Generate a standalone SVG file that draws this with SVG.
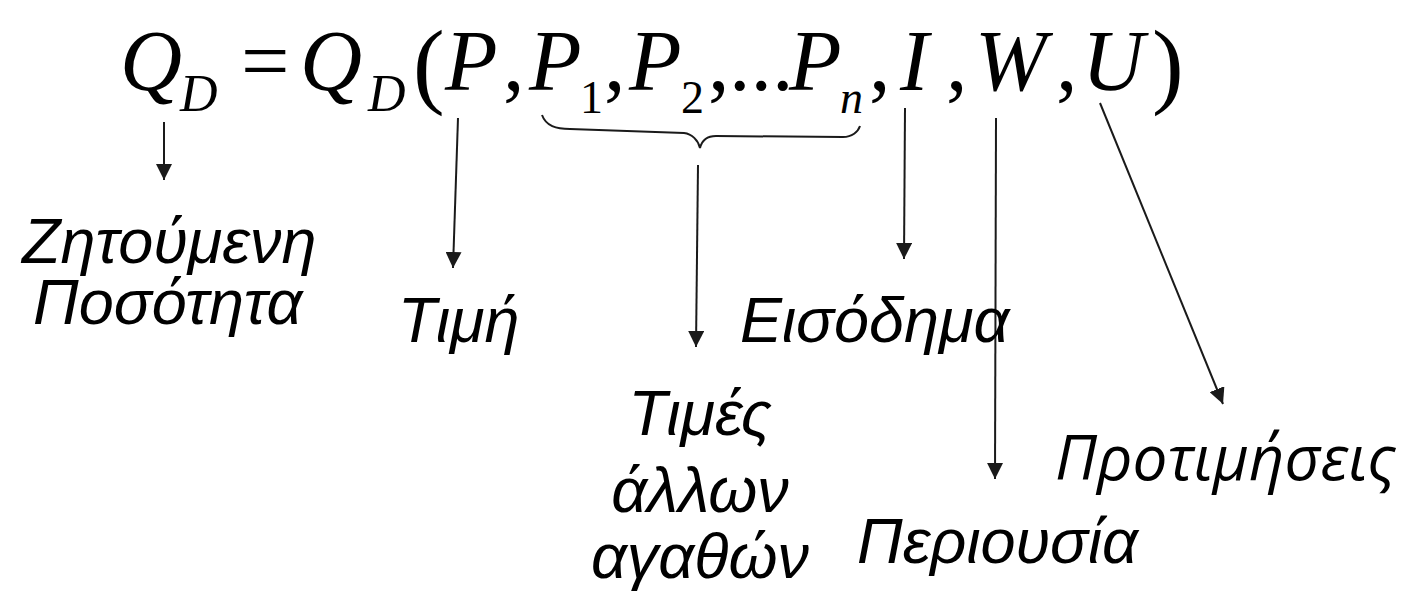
<svg xmlns="http://www.w3.org/2000/svg" width="1404" height="600" viewBox="0 0 1404 600">
<defs>
<marker id="ah" viewBox="0 0 16 16" refX="16" refY="8" markerWidth="16" markerHeight="16" markerUnits="userSpaceOnUse" orient="auto">
<path d="M0,0 L16,8 L0,16 z" fill="#1a1a1a"/>
</marker>
<style>
.m{font-family:"Liberation Serif","Times New Roman",serif;font-style:italic;font-size:86px;fill:#000}
.r{font-family:"Liberation Serif","Times New Roman",serif;font-size:86px;fill:#000}
.sd{font-family:"Liberation Serif","Times New Roman",serif;font-style:italic;font-size:52px;fill:#000}
.sn{font-family:"Liberation Serif","Times New Roman",serif;font-size:46px;fill:#000}
.si{font-family:"Liberation Serif","Times New Roman",serif;font-style:italic;font-size:46px;fill:#000}
.p{font-family:"Liberation Serif","Times New Roman",serif;font-size:95px;fill:#000}
.l{font-family:"Liberation Sans",Arial,sans-serif;font-style:italic;font-size:63px;fill:#000}
.l2{font-family:"Open Sans","Noto Sans",sans-serif;font-style:italic;font-size:62px;fill:#000}
.c{stroke:#1a1a1a;stroke-width:2;fill:none}
</style>
</defs>
<g id="formula">
<text class="m" x="120" y="90">Q</text>
<text class="sd" x="180" y="111">D</text>
<text class="r" x="241" y="90">=</text>
<text class="m" x="300" y="90">Q</text>
<text class="sd" x="368" y="111">D</text>
<text class="p" x="413" y="96">(</text>
<text class="m" x="445" y="90">P</text>
<text class="r" x="503" y="90">,</text>
<text class="m" x="529" y="90">P</text>
<text class="sn" x="580" y="113">1</text>
<text class="r" x="604" y="90">,</text>
<text class="m" x="629" y="90">P</text>
<text class="sn" x="681" y="113">2</text>
<text class="r" x="708" y="90">,</text>
<text class="r" x="729" y="90">...</text>
<text class="m" x="789" y="90">P</text>
<text class="si" x="840" y="113">n</text>
<text class="r" x="869" y="90">,</text>
<text class="m" x="900" y="90">I</text>
<text class="r" x="946" y="90">,</text>
<text class="m" x="975" y="90">W</text>
<text class="r" x="1056" y="90">,</text>
<text class="m" x="1082" y="90">U</text>
<text class="p" x="1152" y="96">)</text>
</g>
<g id="brace">
<path class="c" d="M542,115 C546,126 556,129 570,129 L684,133 C692,134 698,140 700,148 C702,140 708,136 716,136 L843,137 C852,137 858,132 860,126"/>
</g>
<g id="connectors">
<line class="c" x1="164" y1="122" x2="164" y2="180" marker-end="url(#ah)"/>
<line class="c" x1="458" y1="118" x2="453" y2="268" marker-end="url(#ah)"/>
<line class="c" x1="698" y1="165" x2="696" y2="347" marker-end="url(#ah)"/>
<line class="c" x1="905" y1="108" x2="904" y2="259" marker-end="url(#ah)"/>
<line class="c" x1="996" y1="118" x2="995" y2="479" marker-end="url(#ah)"/>
<line class="c" x1="1100" y1="103" x2="1223" y2="404" marker-end="url(#ah)"/>
</g>
<g id="n-quantity"><text class="l" x="22" y="263">Ζητούμενη</text><text class="l" x="33" y="324">Ποσότητα</text></g>
<g id="n-price"><text class="l" x="398" y="342">Τιμή</text></g>
<g id="n-income"><text class="l" x="740" y="342">Εισόδημα</text></g>
<g id="n-others"><text class="l" text-anchor="middle" x="700" y="435">Τιμές</text><text class="l" text-anchor="middle" x="700" y="512">άλλων</text><text class="l" text-anchor="middle" x="700" y="578">αγαθών</text></g>
<g id="n-wealth"><text class="l" x="857" y="563">Περιουσία</text></g>
<g id="n-pref"><text class="l2" x="1055" y="480">Προτιμήσεις</text></g>
</svg>
